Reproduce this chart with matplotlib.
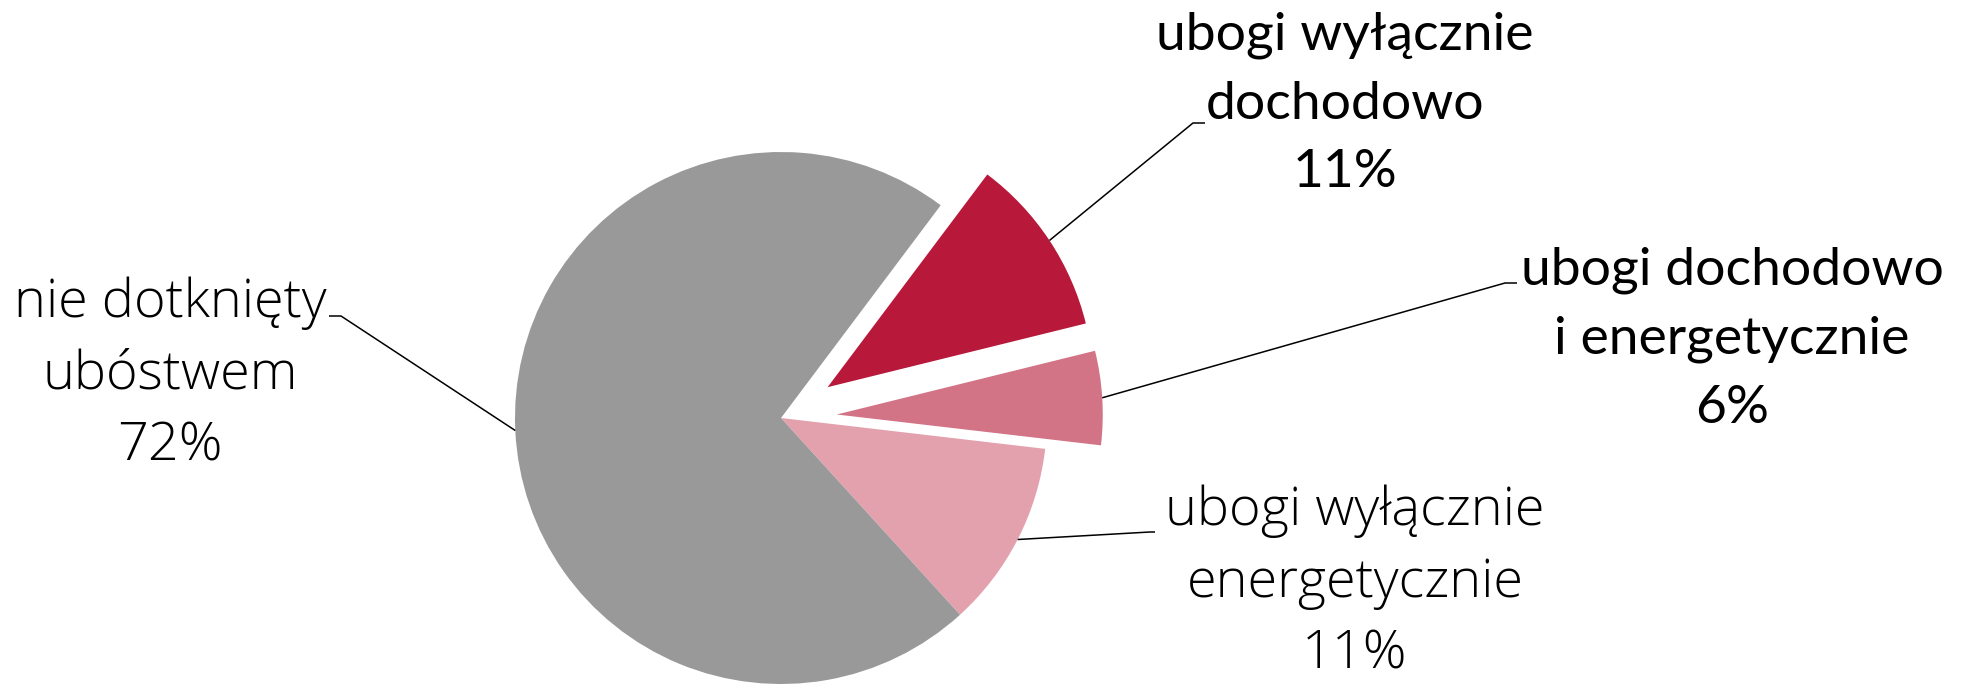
import numpy as np
import matplotlib
matplotlib.use("Agg")
import matplotlib.pyplot as plt

# === Dane ===
LABELS = ["ubogi wyłącznie\ndochodowo",
          "ubogi dochodowo\ni energetycznie",
          "ubogi wyłącznie\nenergetycznie",
          "nie dotknięty\nubóstwem"]
SHARES = [10.9, 5.7, 11.4, 72.0]  # % gospodarstw
COLORS = ["#B8183A", "#D27386", "#E3A1AE", "#999999"]
EXPLODE = [0.21, 0.21, 0.0, 0.0]  # ułamek promienia
BOLD = [True, True, False, False]

# pozycje etykiet w pikselach (x, y od góry) + kolanko linii odniesienia
LABEL_XY = [(1345, 104), (1732, 339), (1355, 583), (170, 375)]
ELBOW = [(1193, 123, 1205), (1505, 283, 1517), (1150, 532, 1155), (341, 316, 329)]

W, H = 1967, 684
CENTER = (781, H - 418)
RADIUS = 266

fig = plt.figure(figsize=(W / 100, H / 100), dpi=100)
ax = fig.add_axes([0, 0, 1, 1])

# explode w matplotlib jest w jednostkach danych -> mnożymy przez promień
wedges, _ = ax.pie(SHARES, colors=COLORS,
                   explode=[e * RADIUS for e in EXPLODE], startangle=53.1,
                   counterclock=False, center=CENTER, radius=RADIUS,
                   wedgeprops=dict(linewidth=0))
ax.set_xlim(0, W)
ax.set_ylim(0, H)
ax.set_aspect("equal")
ax.axis("off")

for w, lab, share, bold, (tx, ty), (ex, ey, ee) in zip(
        wedges, LABELS, SHARES, BOLD, LABEL_XY, ELBOW):
    # punkt na łuku w połowie wycinka
    mid = np.deg2rad((w.theta1 + w.theta2) / 2)
    cx, cy = w.center
    px, py = cx + w.r * np.cos(mid), cy + w.r * np.sin(mid)
    ax.plot([px, ex, ee], [py, H - ey, H - ey], color="black", lw=1.1,
            solid_capstyle="butt")
    if bold:
        ax.text(tx, H - ty, f"{lab}\n{share:.0f}%", ha="center", va="center",
                fontsize=38.5, linespacing=1.57, family="Lato",
                fontweight="normal", color="black")
    else:
        ax.text(tx, H - ty, f"{lab}\n{share:.0f}%", ha="center", va="center",
                fontsize=39, linespacing=1.44, family="Open Sans",
                fontweight="light", color="black")

fig.savefig("out.png", dpi=100)
